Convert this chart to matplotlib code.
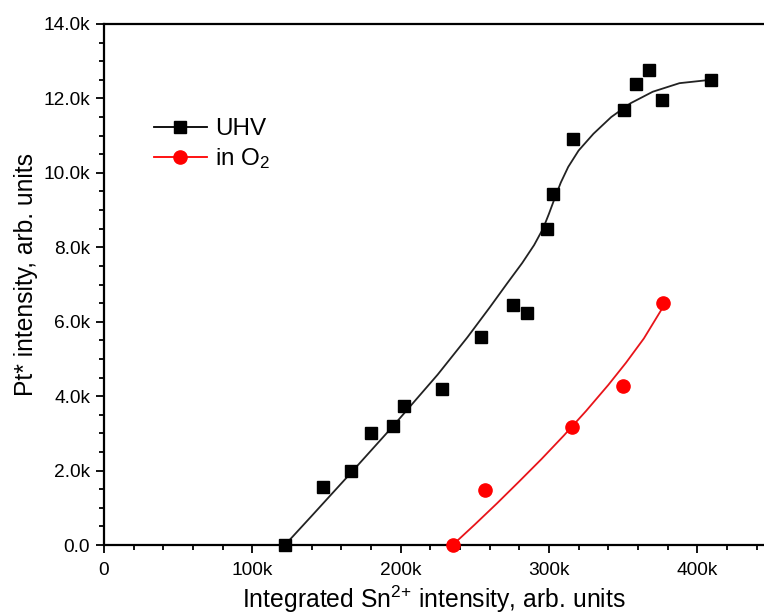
import matplotlib
matplotlib.use("Agg")
import matplotlib.pyplot as plt
from matplotlib.ticker import FixedLocator, MultipleLocator, FuncFormatter

plt.rcParams['font.family'] = ['Liberation Sans', 'DejaVu Sans']
plt.rcParams['mathtext.fontset'] = 'custom'
plt.rcParams['mathtext.rm'] = 'Liberation Sans'
plt.rcParams['mathtext.it'] = 'Liberation Sans:italic'

# UHV data points (x in arb. units, y in arb. units)
uhv_x = [122e3, 147.7e3, 166.6e3, 180e3, 195e3, 202e3, 228e3, 254e3, 276e3, 285e3,
         299e3, 303e3, 316e3, 350.6e3, 359e3, 367.5e3, 376e3, 409e3]
uhv_y = [0, 1.56e3, 2.0e3, 3.0e3, 3.2e3, 3.74e3, 4.2e3, 5.6e3, 6.45e3, 6.23e3,
         8.48e3, 9.43e3, 10.9e3, 11.7e3, 12.4e3, 12.77e3, 11.96e3, 12.5e3]

# UHV fitted curve
uhv_fit_x = [122e3, 140e3, 167e3, 195e3, 225e3, 245e3, 260e3, 272e3, 282e3, 290e3,
             296e3, 300e3, 304e3, 308e3, 313e3, 320e3, 330e3, 342e3, 355e3, 370e3,
             388e3, 409e3]
uhv_fit_y = [0, 0.78e3, 1.96e3, 3.2e3, 4.58e3, 5.58e3, 6.38e3, 7.04e3, 7.58e3, 8.06e3,
             8.5e3, 8.9e3, 9.33e3, 9.74e3, 10.16e3, 10.6e3, 11.05e3, 11.5e3, 11.87e3,
             12.18e3, 12.41e3, 12.5e3]

# in O2 data points
o2_x = [235.1e3, 256.9e3, 315.4e3, 350.2e3, 376.7e3]
o2_y = [0, 1.48e3, 3.18e3, 4.27e3, 6.51e3]

# in O2 fitted curve
o2_fit_x = [235.1e3, 250e3, 265e3, 280e3, 295e3, 310e3, 325e3, 340e3, 352e3, 364e3, 376.7e3]
o2_fit_y = [0, 0.55e3, 1.12e3, 1.71e3, 2.31e3, 2.94e3, 3.6e3, 4.3e3, 4.9e3, 5.55e3, 6.38e3]

x_ticks = [0, 100e3, 200e3, 300e3, 400e3]
y_ticks = [0, 2e3, 4e3, 6e3, 8e3, 10e3, 12e3, 14e3]

fig = plt.figure(figsize=(7.64, 6.14), dpi=100)
ax = fig.add_axes([104/764, 69/614, 660/764, 521/614])

ax.plot(uhv_fit_x, uhv_fit_y, color='#222222', lw=1.3, zorder=2)
ax.plot(o2_fit_x, o2_fit_y, color='#e8141a', lw=1.3, zorder=2)
ax.plot(uhv_x, uhv_y, ls='none', marker='s', ms=8.5, color='black', zorder=3, clip_on=False)
ax.plot(o2_x, o2_y, ls='none', marker='o', ms=9.5, color='#ff0000', zorder=3, clip_on=False)

# legend proxies
h1, = ax.plot([], [], color='black', lw=1.3, marker='s', ms=8.5, label='UHV')
h2, = ax.plot([], [], color='#ff0000', lw=1.3, marker='o', ms=9.5, label='in O$_2$')
leg = ax.legend(handles=[h1, h2], loc='upper left', bbox_to_anchor=(0.075, 0.819),
                frameon=False, fontsize=17.5, handlelength=2.2, handletextpad=0.35,
                labelspacing=0.25, borderpad=0, borderaxespad=0)

ax.set_xlim(0, 445e3)
ax.set_ylim(0, 14e3)
ax.xaxis.set_major_locator(FixedLocator(x_ticks))
ax.xaxis.set_minor_locator(MultipleLocator(20e3))
ax.yaxis.set_major_locator(FixedLocator(y_ticks))
ax.yaxis.set_minor_locator(MultipleLocator(500))
ax.xaxis.set_major_formatter(FuncFormatter(lambda v, p: '0' if v == 0 else f'{v/1e3:.0f}k'))
ax.yaxis.set_major_formatter(FuncFormatter(lambda v, p: '0.0' if v == 0 else f'{v/1e3:.1f}k'))

ax.tick_params(which='major', direction='out', length=6, width=1.3, labelsize=13.8)
ax.tick_params(axis='x', which='major', pad=6.5)
ax.tick_params(axis='y', which='major', pad=4)
ax.tick_params(which='minor', direction='out', length=3.5, width=1.3)
ax.tick_params(top=False, right=False)

for s in ['left', 'bottom', 'top']:
    ax.spines[s].set_linewidth(1.6)
ax.spines['right'].set_visible(False)

ax.set_xlabel('Integrated Sn$^{2{+}}$ intensity, arb. units', fontsize=17.8)
ax.set_ylabel('Pt* intensity, arb. units', fontsize=17.7)
ax.xaxis.set_label_coords(0.5, -0.074)
ax.yaxis.set_label_coords(-0.1, 0.52)

fig.savefig('out.png', dpi=100)
